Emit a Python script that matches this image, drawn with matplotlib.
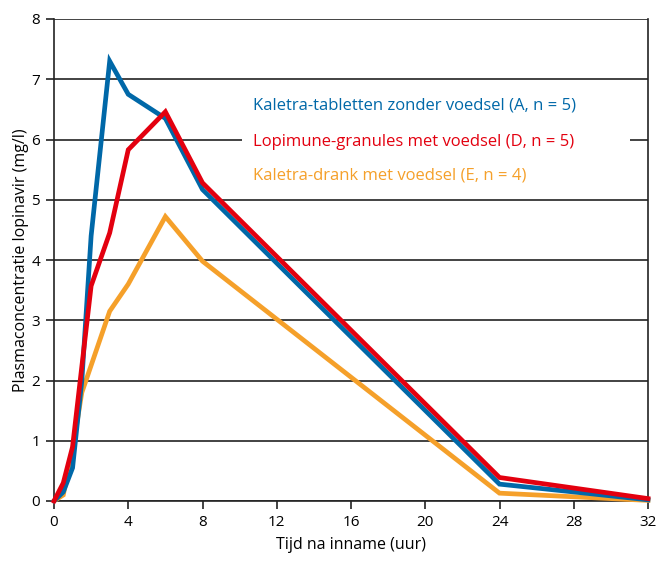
import matplotlib
matplotlib.use("Agg")
import matplotlib.pyplot as plt
from matplotlib.patches import Rectangle

# Data
t_blue = [0, 0.5, 1, 1.5, 2, 3, 4, 6, 8, 24, 32]
c_blue = [0, 0.15, 0.55, 2.0, 4.4, 7.3, 6.75, 6.35, 5.17, 0.28, 0.02]

t_red = [0, 0.5, 1, 2, 3, 4, 6, 8, 24, 32]
c_red = [0, 0.3, 0.9, 3.57, 4.45, 5.83, 6.46, 5.28, 0.39, 0.04]

t_orange = [0, 0.5, 1, 1.5, 3, 4, 6, 8, 24, 32]
c_orange = [0, 0.1, 0.85, 1.8, 3.15, 3.6, 4.72, 3.98, 0.13, 0.01]

labels = ["Kaletra-tabletten zonder voedsel (A, n = 5)",
          "Lopimune-granules met voedsel (D, n = 5)",
          "Kaletra-drank met voedsel (E, n = 4)"]
xticks = [0, 4, 8, 12, 16, 20, 24, 28, 32]
yticks = [0, 1, 2, 3, 4, 5, 6, 7, 8]

blue = "#0068a8"
red = "#e3000f"
orange = "#f5a02a"

plt.rcParams['font.family'] = ['Open Sans', 'DejaVu Sans']

fig = plt.figure(figsize=(6.72, 5.68), dpi=100)
ax = fig.add_axes([54/672, 67/568, 594/672, 482/568])

for y in yticks:
    ax.axhline(y, color="#222222", lw=1.2, zorder=1)

# white panel behind the legend text (interrupts the gridline at 6)
ax.add_patch(Rectangle((242/672, 1 - 156/568), (630 - 242)/672, 30/568,
                       transform=fig.transFigure, facecolor='white',
                       edgecolor='none', zorder=2))

lw = 3.4
ax.plot(t_orange, c_orange, color=orange, lw=lw, zorder=3, clip_on=False, solid_joinstyle='miter')
ax.plot(t_blue, c_blue, color=blue, lw=lw, zorder=4, clip_on=False, solid_joinstyle='miter')
ax.plot(t_red, c_red, color=red, lw=lw, zorder=5, clip_on=False, solid_joinstyle='miter')

ax.set_xlim(0, 32)
ax.set_ylim(0, 8)
ax.set_xticks(xticks)
ax.set_yticks(yticks)
ax.tick_params(axis='both', direction='out', length=6, width=1.2, color='#222222',
               labelsize=11, pad=4)
for s in ['left', 'bottom', 'right']:
    ax.spines[s].set_color('#222222')
    ax.spines[s].set_linewidth(1.2)
ax.spines['top'].set_visible(False)

ax.set_xlabel("Tijd na inname (uur)", fontsize=11.5, labelpad=5)
ax.set_ylabel("Plasmaconcentratie lopinavir (mg/l)", fontsize=11.5, labelpad=2)

for lab, col, ypix in zip(labels, [blue, red, orange], [105, 142, 176]):
    fig.text(253/672, 1 - ypix/568, lab, color=col, fontsize=12, va='center', ha='left')

fig.savefig("out.png", dpi=100)
